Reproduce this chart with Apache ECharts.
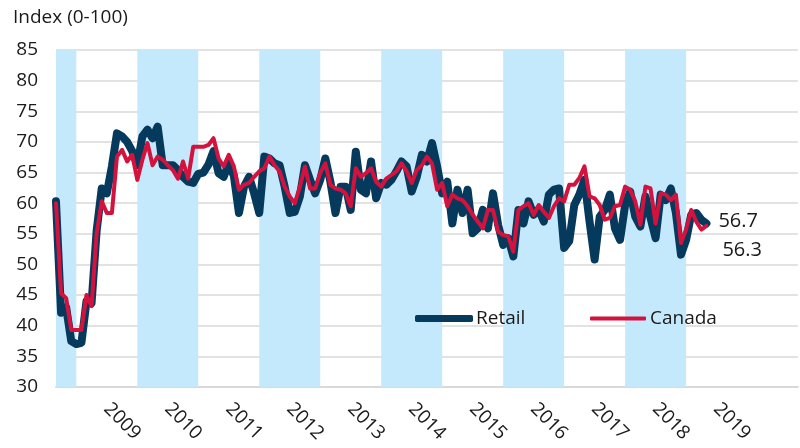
<!DOCTYPE html>
<html>
<head>
<meta charset="utf-8">
<script src="https://cdn.jsdelivr.net/npm/echarts@6/dist/echarts.min.js"></script>
<style>
html,body{margin:0;padding:0;background:#fff;}
#chart{width:800px;height:448px;}
</style>
</head>
<body>
<div id="chart"></div>
<script>
// Monthly data, first month September 2008
var startYear = 2008, startMonth = 9;
var retail = [60.3,42.1,43.0,37.5,37.0,37.2,44.0,43.7,55.5,62.4,61.6,66.0,71.4,70.9,70.0,68.5,
  66.2,70.9,72.0,70.6,72.5,66.2,66.2,66.2,65.4,64.3,63.5,63.3,
  64.8,65.0,66.3,68.5,64.9,64.3,66.5,64.5,58.4,62.7,64.3,61.6,
  58.4,67.6,67.3,66.5,66.2,62.7,58.4,58.6,61.1,66.2,63.8,61.6,
  63.8,67.3,63.5,58.4,62.7,62.7,58.9,68.4,62.2,61.6,66.8,60.8,
  63.3,63.0,63.8,65.2,66.8,66.0,61.9,64.3,67.9,66.8,69.8,66.0,
  61.6,63.5,56.7,62.2,58.4,62.2,55.1,55.9,58.9,55.9,61.6,56.5,
  53.2,54.3,51.3,58.9,56.7,60.3,58.1,59.0,57.0,61.4,62.2,62.4,
  52.7,53.8,59.7,61.4,63.8,57.0,50.8,57.8,58.9,61.4,55.9,54.0,
  59.7,61.9,57.8,56.2,61.1,57.6,54.3,61.4,60.5,62.4,58.4,51.6,
  54.0,58.1,58.4,57.3,56.7];
var canada = [60.0,45.3,44.5,39.3,39.3,39.3,45.0,43.2,55.1,60.3,58.4,58.4,67.6,68.7,66.8,67.9,
  63.8,67.1,69.8,66.2,67.6,67.1,66.2,65.4,64.0,66.8,64.0,69.2,
  69.2,69.2,69.5,70.6,67.3,66.0,67.9,66.0,62.2,63.0,63.3,64.3,
  65.2,65.7,67.6,66.2,65.2,62.7,61.1,60.0,62.7,66.0,62.4,62.4,
  64.9,66.5,63.0,62.4,62.2,61.6,59.5,65.7,64.3,64.9,65.7,63.5,
  62.7,64.0,64.6,65.2,66.5,65.2,63.3,65.4,66.2,67.6,66.5,62.2,
  63.3,59.5,61.4,60.8,60.5,59.5,58.1,57.0,55.9,58.9,58.9,55.4,
  54.8,54.6,52.1,58.9,59.5,60.0,58.1,59.7,58.6,57.6,59.5,60.8,
  60.3,63.0,63.0,64.1,66.0,61.1,60.8,59.7,57.3,57.6,59.5,59.7,
  62.7,62.2,60.3,56.5,62.7,62.4,56.7,61.6,61.4,60.5,61.4,53.5,
  55.7,58.9,57.0,55.7,56.3];
var yearLabels = ['2009','2010','2011','2012','2013','2014','2015','2016','2017','2018','2019'];
var shadedYears = [2008,2010,2012,2014,2016,2018];
var yTicks = {min:30, max:85, step:5};

var FONT = 'Open Sans';
var TXT = '#1a1a1a';
var axisMin = 8, axisMax = 154; // months since Jan 2008

function monthIndex(i){ return (startYear-2008)*12 + (startMonth-1) + i; }
function toPairs(arr){ return arr.map(function(v,i){ return [monthIndex(i), v]; }); }

var bands = shadedYears.map(function(y){
  var s = (y-2008)*12, e = s+12;
  return [{xAxis: Math.max(s, axisMin)}, {xAxis: e}];
});

var chart = echarts.init(document.getElementById('chart'), null, {renderer:'canvas'});
chart.setOption({
  animation:false,
  backgroundColor:'#fff',
  title:{text:'Index (0-100)', left:8, top:3,
    textStyle:{fontFamily:FONT, fontSize:19, fontWeight:'normal', color:TXT}},
  grid:{left:56, right:0, top:50, bottom:61, containLabel:false},
  legend:[
    {data:['Retail'], left:415, top:309, padding:0, icon:'roundRect', itemWidth:58, itemHeight:7, itemGap:0,
     textStyle:{fontFamily:FONT, fontSize:19, color:TXT, padding:[0,0,0,-2]}},
    {data:['Canada'], left:590, top:309, padding:0, icon:'roundRect', itemWidth:56, itemHeight:4, itemGap:0,
     textStyle:{fontFamily:FONT, fontSize:19, color:TXT, padding:[0,0,0,-1]}}
  ],
  xAxis:{type:'value', min:axisMin, max:axisMax, interval:2,
    axisLine:{show:true, onZero:false, lineStyle:{color:'#d9d9d9', width:2}},
    axisTick:{show:false}, splitLine:{show:false},
    axisLabel:{rotate:-45, margin:19, fontFamily:FONT, fontSize:19, color:TXT,
      showMinLabel:true, showMaxLabel:true,
      formatter:function(v){
        if ((v-18)%12===0){ var k=(v-18)/12; return yearLabels[k]||''; }
        return '';
      }}
  },
  yAxis:{type:'value', min:yTicks.min, max:yTicks.max, interval:yTicks.step,
    axisLine:{show:false}, axisTick:{show:false},
    splitLine:{lineStyle:{color:'#d9d9d9', width:1.5}},
    axisLabel:{margin:18, fontFamily:FONT, fontSize:19, color:TXT}
  },
  series:[
    {name:'Retail', type:'line', data:toPairs(retail), symbol:'none', z:2,
     color:'#063a5c',
     lineStyle:{color:'#063a5c', width:8, cap:'round', join:'round'},
     markArea:{silent:true, itemStyle:{color:'#c5e9fc'}, data:bands},
     endLabel:{show:true, distance:12, offset:[0,-2], fontFamily:FONT, fontSize:20, color:TXT,
       formatter:function(p){ return p.value[1].toFixed(1); }}
    },
    {name:'Canada', type:'line', data:toPairs(canada), symbol:'none', z:3,
     color:'#d3123e',
     lineStyle:{color:'#d3123e', width:4, cap:'round', join:'round'},
     endLabel:{show:true, distance:16, offset:[0,24], fontFamily:FONT, fontSize:20, color:TXT,
       formatter:function(p){ return p.value[1].toFixed(1); }}
    }
  ]
});
</script>
</body>
</html>
